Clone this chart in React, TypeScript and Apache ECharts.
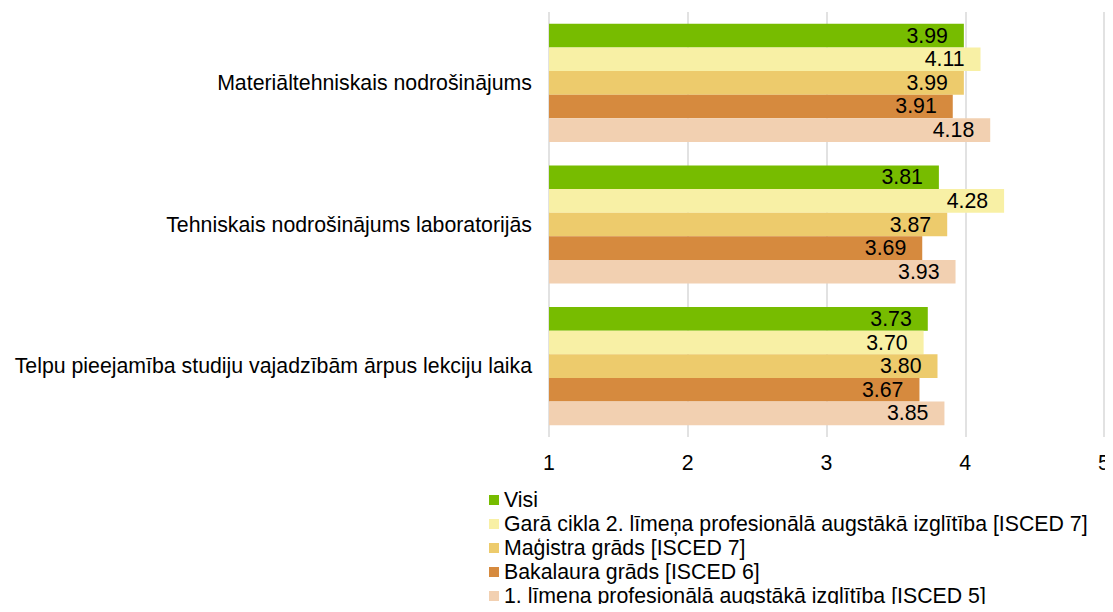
import React, { useEffect, useRef } from "react";
import * as echarts from "echarts";

const categories = [
  "Materiāltehniskais nodrošinājums",
  "Tehniskais nodrošinājums laboratorijās",
  "Telpu pieejamība studiju vajadzībām ārpus lekciju laika",
];
const seriesNames = [
  "Visi",
  "Garā cikla 2. līmeņa profesionālā augstākā izglītība [ISCED 7]",
  "Maģistra grāds [ISCED 7]",
  "Bakalaura grāds [ISCED 6]",
  "1. līmeņa profesionālā augstākā izglītība [ISCED 5]",
];
const visi = [3.99, 3.81, 3.73];
const garaCikla = [4.11, 4.28, 3.7];
const magistra = [3.99, 3.87, 3.8];
const bakalaura = [3.91, 3.69, 3.67];
const pirmaLimena = [4.18, 3.93, 3.85];
const seriesValues = [visi, garaCikla, magistra, bakalaura, pirmaLimena];
const colors = ["#77BC00", "#F8F0A5", "#EDCB6C", "#D68A3E", "#F2D0B1"];
const xTicks = [1, 2, 3, 4, 5];

const FONT = "'Liberation Sans', Arial, sans-serif";
const FS = 21.3;

export default function App() {
  const ref = useRef<HTMLDivElement>(null);
  useEffect(() => {
    if (!ref.current) return;
    const chart = echarts.init(ref.current, undefined, { renderer: "svg" });
    chart.setOption({
      animation: false,
      textStyle: { fontFamily: FONT },
      grid: { left: 549, right: 9, top: 12, bottom: 175, containLabel: false },
      legend: {
        orient: "vertical",
        left: 489,
        top: 488,
        padding: 0,
        itemWidth: 10,
        itemHeight: 10,
        itemGap: 0,
        icon: "rect",
        textStyle: { fontSize: FS, color: "#000", fontFamily: FONT, lineHeight: 24 },
        data: seriesNames,
      },
      xAxis: {
        type: "value",
        min: xTicks[0],
        max: xTicks[xTicks.length - 1],
        interval: 1,
        axisLine: { show: false },
        axisTick: { show: false },
        axisLabel: { fontSize: FS, color: "#000", margin: 15, fontFamily: FONT },
        splitLine: { show: true, lineStyle: { color: "#D9D9D9", width: 1.5 } },
      },
      yAxis: {
        type: "category",
        data: categories,
        inverse: true,
        axisLine: { show: false },
        axisTick: { show: false },
        axisLabel: { fontSize: FS, color: "#000", margin: 17, fontFamily: FONT },
      },
      series: seriesValues.map((vals, i) => ({
        name: seriesNames[i],
        type: "bar",
        data: vals,
        barGap: "0%",
        barCategoryGap: "16.6%",
        itemStyle: { color: colors[i] },
        label: {
          show: true,
          position: "insideRight",
          distance: 16,
          formatter: (p: any) => p.value.toFixed(2),
          fontSize: FS,
          color: "#000",
          fontFamily: FONT,
        },
      })),
    });
    return () => chart.dispose();
  }, []);
  return <div ref={ref} style={{ width: 1113, height: 612, margin: -8 }} />;
}
